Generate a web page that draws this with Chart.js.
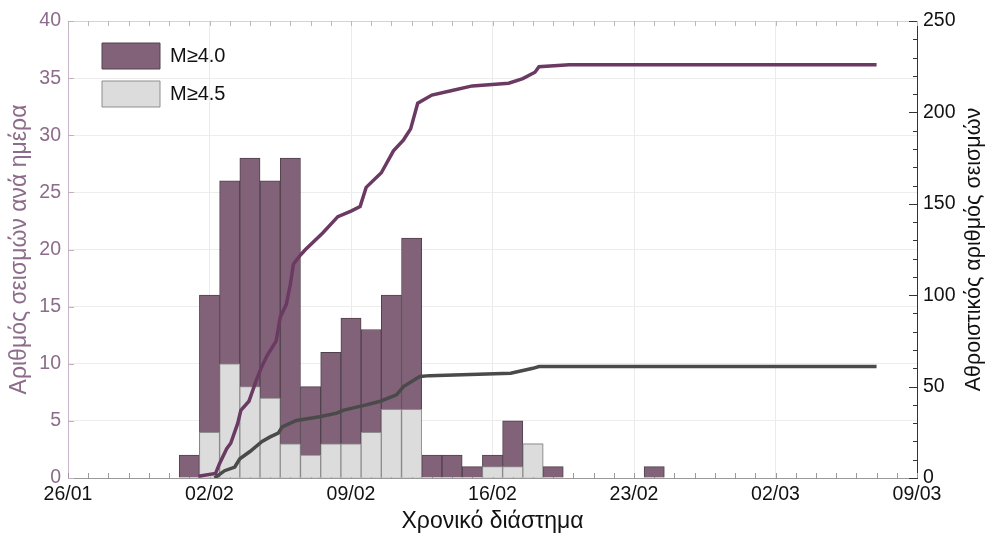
<!DOCTYPE html>
<html>
<head>
<meta charset="utf-8">
<script src="https://cdn.jsdelivr.net/npm/chart.js@4.4.1/dist/chart.umd.min.js"></script>
<style>
  html, body { margin: 0; padding: 0; background: #ffffff; }
  #wrap { width: 988px; height: 540px; }
</style>
</head>
<body>
<div id="wrap"><canvas id="quakeChart" width="988" height="540"></canvas></div>
<script>
// Tick labels of the time axis (every 7 days from 26/01)
const xTickLabels = ["26/01", "02/02", "09/02", "16/02", "23/02", "02/03", "09/03"];

// Daily counts
const barDates = [
  "01/02", "02/02", "03/02", "04/02", "05/02", "06/02", "07/02", "08/02",
  "09/02", "10/02", "11/02", "12/02", "13/02", "14/02", "15/02", "16/02",
  "17/02", "18/02", "19/02", "24/02",
];
const countM40 = [2, 16, 26, 28, 26, 28, 8, 11, 14, 13, 16, 21, 2, 2, 1, 2, 5, 3, 1, 1];
const countM45 = [0, 4, 10, 8, 7, 3, 2, 3, 3, 4, 6, 6, 0, 0, 0, 1, 1, 3, 0, 0];

// Cumulative curves (time in days after 26/01 00:00)
const cumDaysM40 = [
  6.45, 7.3, 7.5, 7.85, 8.05, 8.4, 8.55, 8.95, 9.3, 9.55, 9.85, 10.3, 10.5,
  10.8, 11.0, 11.15, 11.5, 11.75, 12.6, 13.35, 14.0, 14.45, 14.75, 15.5, 16.1,
  16.6, 16.95, 17.3, 18.0, 19.0, 20.0, 21.8, 22.5, 23.1, 23.3, 24.8, 40.0,
];
const cumM40 = [
  1, 2.5, 8, 16, 19, 30, 37, 42, 53, 60, 67, 75, 88,
  95, 106, 117, 122, 125, 134, 143, 146, 148.5, 159, 167, 179,
  185, 191, 205, 209.5, 212, 214.5, 216, 218.5, 222, 225, 226, 226,
];
const cumDaysM45 = [
  7.25, 7.75, 8.25, 8.5, 9.0, 9.6, 10.0, 10.4, 10.6, 11.3, 12.45, 13.3,
  13.6, 14.75, 15.45, 16.25, 16.6, 17.4, 17.9, 21.9, 23.0, 23.3, 40.0,
];
const cumM45 = [
  0, 4, 6, 10.5, 14.5, 20, 22.5, 24.5, 28, 31.5, 33.5, 35.5,
  37, 40, 42, 45.5, 50, 55.5, 56, 57.3, 60, 61, 61,
];

const rightTitle = "Αθροιστικός αριθμός σεισμών";

// days since 26/01 for a "dd/mm" string
function dayOffset(s) {
  const d = parseInt(s.slice(0, 2), 10);
  const m = parseInt(s.slice(3, 5), 10);
  if (m === 1) return d - 26;
  if (m === 2) return 5 + d;
  return 5 + 28 + d;
}

function toPoints(xs, ys) {
  return xs.map(function (x, i) {
    return { x: x, y: ys[i] };
  });
}

const barM40 = barDates.map(function (s, i) {
  return { x: dayOffset(s), y: countM40[i] };
});
const barM45 = barDates
  .map(function (s, i) {
    return { x: dayOffset(s), y: countM45[i] };
  })
  .filter(function (p) {
    return p.y > 0;
  });

const purpleAxis = "#8c6c8a";
const fontFamily = "'Liberation Sans', Arial, Helvetica, sans-serif";

// small inward tick marks, top frame line, right title (reads bottom to top)
const frameTicks = {
  id: "frameTicks",
  beforeDatasetsDraw(chart) {
    const ctx = chart.ctx;
    const a = chart.chartArea;
    const x = chart.scales.x;
    const y = chart.scales.y;
    const y2 = chart.scales.y2;
    ctx.save();
    ctx.lineWidth = 1;

    // top frame
    ctx.strokeStyle = "#d4d4d4";
    ctx.beginPath();
    ctx.moveTo(a.left, a.top + 0.5);
    ctx.lineTo(a.right, a.top + 0.5);
    ctx.stroke();

    // daily ticks bottom and top
    for (let d = 0; d <= 42; d++) {
      const px = Math.round(x.getPixelForValue(d)) + 0.5;
      ctx.strokeStyle = "#9a9a9a";
      ctx.beginPath();
      ctx.moveTo(px, a.bottom);
      ctx.lineTo(px, a.bottom - 5);
      ctx.stroke();
      ctx.strokeStyle = "#b8b8b8";
      ctx.beginPath();
      ctx.moveTo(px, a.top);
      ctx.lineTo(px, a.top + 5);
      ctx.stroke();
    }

    // left axis ticks
    ctx.strokeStyle = "#c2aec0";
    for (let v = 0; v <= 40; v += 5) {
      const py = Math.round(y.getPixelForValue(v)) + 0.5;
      ctx.beginPath();
      ctx.moveTo(a.left, py);
      ctx.lineTo(a.left + 6, py);
      ctx.stroke();
    }

    // right axis ticks
    ctx.strokeStyle = "#333333";
    for (let v = 0; v <= 250; v += 10) {
      const py = Math.round(y2.getPixelForValue(v)) + 0.5;
      const len = v % 50 === 0 ? 8 : 4;
      ctx.beginPath();
      ctx.moveTo(a.right, py);
      ctx.lineTo(a.right - len, py);
      ctx.stroke();
    }
    ctx.restore();
  },
  afterDraw(chart) {
    const ctx = chart.ctx;
    const a = chart.chartArea;
    ctx.save();
    ctx.translate(980, (a.top + a.bottom) / 2);
    ctx.rotate(-Math.PI / 2);
    ctx.fillStyle = "#111111";
    ctx.font = "21.5px " + fontFamily;
    ctx.textAlign = "center";
    ctx.textBaseline = "alphabetic";
    ctx.fillText(rightTitle, 0, 0);
    ctx.restore();
  },
  afterLayout(chart) {
    // move legend into the upper-left corner of the plot
    const lg = chart.legend;
    if (lg) {
      lg.left += 22;
      lg.right += 22;
      lg.top += 31;
      lg.bottom += 31;
    }
  },
};

function initChart() {
  const ctx = document.getElementById("quakeChart").getContext("2d");
  new Chart(ctx, {
    type: "bar",
    data: {
      datasets: [
        {
          label: "M≥4.0",
          data: barM40,
          backgroundColor: "#826278",
          borderColor: "#50424d",
          borderWidth: 1,
          grouped: false,
          barPercentage: 1,
          categoryPercentage: 1,
          yAxisID: "y",
          order: 4,
        },
        {
          label: "M≥4.5",
          data: barM45,
          backgroundColor: "#dcdcdc",
          borderColor: "#8e8e8e",
          borderWidth: 1,
          grouped: false,
          barPercentage: 1,
          categoryPercentage: 1,
          yAxisID: "y",
          order: 3,
        },
        {
          type: "line",
          label: "cum M≥4.0",
          data: toPoints(cumDaysM40, cumM40),
          borderColor: "#6b3a63",
          borderWidth: 3.5,
          pointRadius: 0,
          tension: 0,
          fill: false,
          yAxisID: "y2",
          order: 2,
        },
        {
          type: "line",
          label: "cum M≥4.5",
          data: toPoints(cumDaysM45, cumM45),
          borderColor: "#4a4a4a",
          borderWidth: 3.5,
          pointRadius: 0,
          tension: 0,
          fill: false,
          yAxisID: "y2",
          order: 1,
        },
      ],
    },
    options: {
      responsive: false,
      animation: false,
      devicePixelRatio: 1,
      layout: { padding: { top: 21, left: 0, right: 0, bottom: 0 } },
      plugins: {
        tooltip: { enabled: false },
        legend: {
          position: "chartArea",
          align: "start",
          labels: {
            boxWidth: 58,
            boxHeight: 26,
            padding: 12,
            color: "#111111",
            font: { family: fontFamily, size: 20 },
            filter: function (item) {
              return item.datasetIndex < 2;
            },
            sort: function (a, b) {
              return a.datasetIndex - b.datasetIndex;
            },
          },
        },
      },
      scales: {
        x: {
          type: "linear",
          min: 0,
          max: 42,
          offset: false,
          grid: { color: "#ebebeb", drawTicks: false, offset: false },
          border: { color: "#9a9a9a" },
          ticks: {
            stepSize: 7,
            autoSkip: false,
            maxRotation: 0,
            padding: 5,
            color: "#111111",
            font: { family: fontFamily, size: 19.5 },
            callback: function (v) {
              return xTickLabels[Math.round(v / 7)];
            },
          },
          title: {
            display: true,
            text: "Χρονικό διάστημα",
            color: "#111111",
            font: { family: fontFamily, size: 23 },
            padding: { top: 0, bottom: 5 },
          },
          afterFit: function (s) {
            s.height = 62;
          },
        },
        y: {
          position: "left",
          min: 0,
          max: 40,
          grid: { color: "#ededed", drawTicks: false },
          border: { color: "#c8b6c6" },
          ticks: {
            stepSize: 5,
            padding: 7,
            color: purpleAxis,
            font: { family: fontFamily, size: 19.5 },
          },
          title: {
            display: true,
            text: "Αριθμός σεισμών ανά ημέρα",
            color: purpleAxis,
            font: { family: fontFamily, size: 23 },
            padding: { top: 6, bottom: 0 },
          },
          afterFit: function (s) {
            s.width = 68;
          },
        },
        y2: {
          position: "right",
          min: 0,
          max: 250,
          grid: { display: false, drawTicks: false },
          border: { color: "#333333" },
          ticks: {
            stepSize: 50,
            padding: 6,
            color: "#111111",
            font: { family: fontFamily, size: 19.5 },
          },
          afterFit: function (s) {
            s.width = 71;
          },
        },
      },
    },
    plugins: [frameTicks],
  });
}

document.addEventListener("DOMContentLoaded", function () {
  initChart();
});
</script>
</body>
</html>
